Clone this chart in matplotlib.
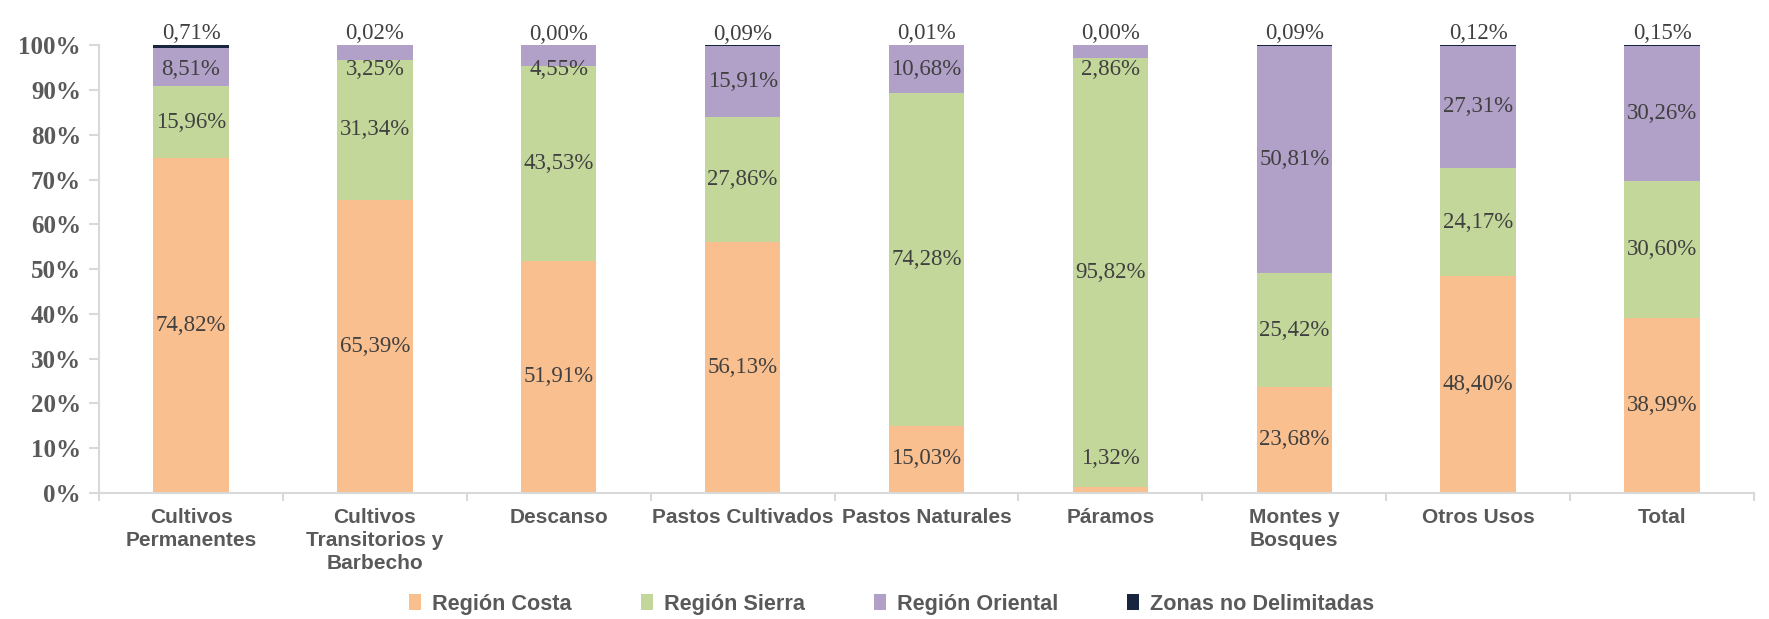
import matplotlib
matplotlib.use("Agg")
import matplotlib.pyplot as plt
from matplotlib.patches import Patch
import numpy as np

categories = ["Cultivos\nPermanentes", "Cultivos\nTransitorios y\nBarbecho", "Descanso",
              "Pastos Cultivados", "Pastos Naturales", "Páramos", "Montes y\nBosques",
              "Otros Usos", "Total"]
costa = [74.82, 65.39, 51.91, 56.13, 15.03, 1.32, 23.68, 48.40, 38.99]
sierra = [15.96, 31.34, 43.53, 27.86, 74.28, 95.82, 25.42, 24.17, 30.60]
oriental = [8.51, 3.25, 4.55, 15.91, 10.68, 2.86, 50.81, 27.31, 30.26]
zonas = [0.71, 0.02, 0.00, 0.09, 0.01, 0.00, 0.09, 0.12, 0.15]
series_names = ["Región Costa", "Región Sierra", "Región Oriental", "Zonas no Delimitadas"]
colors = ["#F9BF8F", "#C4D79B", "#B1A0C7", "#17253F"]

fig = plt.figure(figsize=(17.69, 6.19), dpi=100)
ax = fig.add_axes([0.056, 0.2036, 0.9355, 0.7234])

x = np.arange(len(categories))
w = 0.41
bottom = np.zeros(len(categories))
series = [costa, sierra, oriental, zonas]
lab_font = dict(family="Liberation Serif", size=16.5, color="#404040")
for si, (vals, col) in enumerate(zip(series, colors)):
    vals = np.array(vals)
    ax.bar(x, vals, w, bottom=bottom, color=col, edgecolor="none", zorder=2)
    for i, v in enumerate(vals):
        txt = f"{v:.2f}%".replace(".", ",")
        if si == 3:
            ax.annotate(txt, (x[i], bottom[i] + v), xytext=(0, 0.5), textcoords="offset points",
                        ha="center", va="bottom", **lab_font)
        else:
            yc = bottom[i] + v / 2
            yc = min(max(yc, 7.6), 94.5)
            ax.text(x[i], yc, txt, ha="center", va="center", **lab_font)
    bottom = bottom + vals

ax.set_xlim(-0.5, len(categories) - 0.5)
ax.set_ylim(0, 100)
ax.set_yticks(np.arange(0, 101, 10))
ax.set_yticklabels([f"{t}%" for t in range(0, 101, 10)], fontfamily="Liberation Serif",
                   fontweight="bold", fontsize=18, color="#595959")
ax.set_xticks(x)
ax.set_xticklabels(categories, fontfamily="Liberation Sans", fontweight="bold",
                   fontsize=15, color="#595959", linespacing=1.25)
ax.set_xticks(np.arange(-0.5, len(categories), 1), minor=True)
ax.tick_params(axis="x", which="major", length=0, pad=11)
ax.tick_params(axis="x", which="minor", length=6, color="#D9D9D9", width=1.5)
ax.tick_params(axis="y", length=7, color="#D9D9D9", width=1.5, pad=6)
for s in ["top", "right"]:
    ax.spines[s].set_visible(False)
for s in ["left", "bottom"]:
    ax.spines[s].set_color("#D9D9D9")
    ax.spines[s].set_linewidth(1.5)

handles = [Patch(facecolor=c, edgecolor="none") for c in colors]
fig.legend(handles, series_names, loc="center", bbox_to_anchor=(0.504, 0.024), ncol=4,
           frameon=False, handlelength=0.55, handleheight=0.75, handletextpad=0.5,
           columnspacing=3.2, borderpad=0, prop=dict(family="Liberation Sans", weight="bold", size=15.6))
for t in fig.legends[0].get_texts():
    t.set_color("#595959")

fig.savefig("out.png", dpi=100)
